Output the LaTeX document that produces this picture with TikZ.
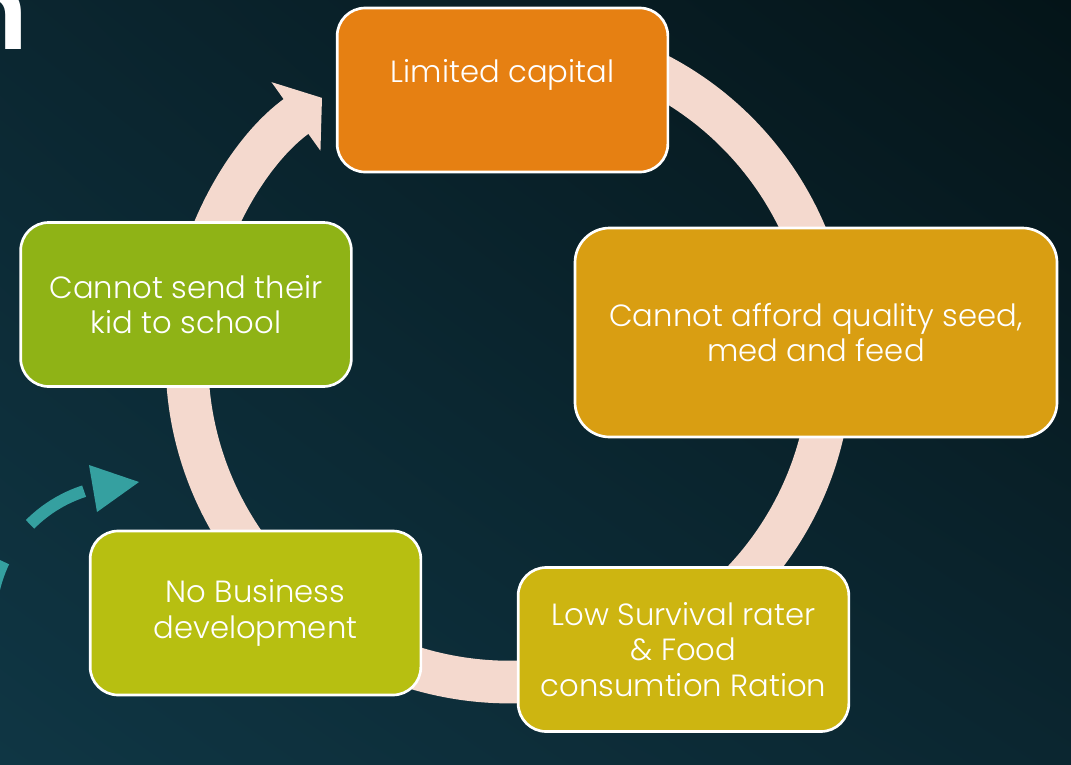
\documentclass[tikz,border=0pt]{standalone}
\usepackage{fontspec}
\setmainfont{Poppins}[UprightFont={* Light}, BoldFont={* SemiBold}]
\usepackage{xcolor}
\usetikzlibrary{arrows.meta}
\usetikzlibrary{positioning}
\usetikzlibrary{shadings}
\definecolor{bgdark}{RGB}{4,20,24}
\definecolor{bgmid}{RGB}{11,38,48}
\definecolor{bgteal}{RGB}{15,54,68}
\definecolor{ringcol}{RGB}{244,217,206}
\definecolor{capcol}{RGB}{230,128,18}
\definecolor{seedcol}{RGB}{217,158,18}
\definecolor{survcol}{RGB}{205,181,17}
\definecolor{buscol}{RGB}{183,191,17}
\definecolor{kidcol}{RGB}{143,179,22}
\definecolor{dashcol}{RGB}{53,160,160}

\begin{document}
\begin{tikzpicture}[x=0.75pt, y=-0.75pt,
    box/.style={draw=white, line width=2pt, rounded corners=21pt, minimum width=248pt, minimum height=123pt, inner sep=0pt, text=white, align=center, font=\fontsize{23}{26.5}\selectfont},
    txt/.style={text=white, align=center, font=\fontsize{23}{26.5}\selectfont, inner sep=0pt}]
	% background
	\useasboundingbox (0,0) rectangle (1071,764);
	\shade[upper left=bgmid, upper right=bgdark, lower left=bgteal, lower right=bgmid] (0,0) rectangle (1071,764);
	% last letter of the title, cut off
	\node[anchor=base east, text=white, font=\fontsize{84}{84}\selectfont\bfseries, inner sep=0pt] (title) at (29,49) {n};
	
	% ring with arrow
	\coordinate (O) at (509,360);
	\draw[ringcol, line width=32pt, -{Triangle[width=62pt, length=24pt]}] (O) ++(-80:322) arc[start angle=-80, end angle=234.5, radius=322];
	
	% dashed arrow on the left
	\coordinate (D) at (126,620);
	\draw[dashcol, line width=9pt, dash pattern=on 48pt off 34.5pt] (D) ++(178.4:135.5) arc[start angle=178.4, end angle=252, radius=135.5];
	\fill[dashcol] (139,482) -- (89,465) -- (97,512) -- cycle;
	
	% boxes
	\node[box, fill=capcol, label={[txt, yshift=11.5pt]center:Limited capital}] (cap) at (502.5,90) {};
	\node[box, fill=seedcol, minimum width=361.5pt, minimum height=156.75pt, rounded corners=26pt] (seed) at (816,332.5) {Cannot afford quality seed,\\med and feed};
	\node[box, fill=survcol] (surv) at (683.5,649.5) {Low Survival rater\\\& Food\\consumtion Ration};
	\node[box, fill=buscol] (bus) at (255.5,613) {No Business\\development};
	\node[box, fill=kidcol] (kid) at (186,304.5) {Cannot send their\\kid to school};
\end{tikzpicture}
\end{document}
